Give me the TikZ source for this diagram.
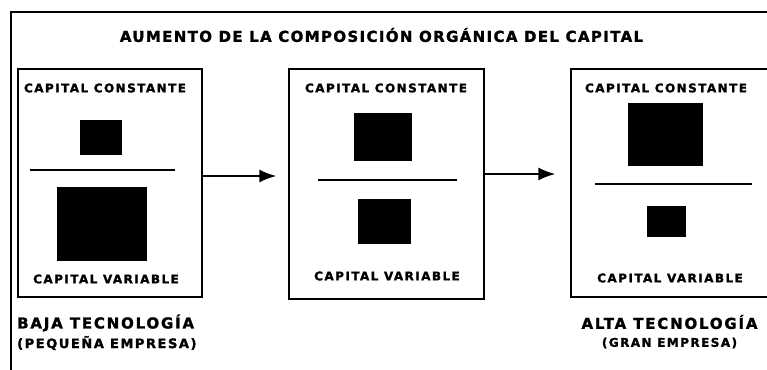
\documentclass[tikz,border=0pt]{standalone}
\usepackage{fontspec}
\usetikzlibrary{arrows.meta, positioning}
\newfontfamily\rotulo{DejaVu Sans}[LetterSpace=12,FakeBold=1.6]
\newfontfamily\titulo{DejaVu Sans}[LetterSpace=9,FakeBold=1.6]

\begin{document}
\begin{tikzpicture}[x=1pt,y=-1pt,>={Latex[length=17pt,width=13pt]},
      caja/.style={draw,line width=1.5pt,inner sep=0pt},
      cuadro/.style={fill=black,inner sep=0pt},
      texto/.style={font=\rotulo\bfseries\fontsize{12}{14}\selectfont,inner sep=0pt},
      grande/.style={font=\rotulo\bfseries\fontsize{15}{17}\selectfont,inner sep=0pt},
      raya/.style={line width=1.6pt},
      flecha/.style={->,line width=1.6pt,shorten >=12pt}]
      \useasboundingbox (0,0) rectangle (767,369);
      % marco exterior
      \draw[line width=1.4pt] (11,380) -- (11,12) -- (780,12);
      \node[font=\titulo\bfseries\fontsize{15}{17}\selectfont,inner sep=0pt] (titulo) at (381.5,35) {AUMENTO DE LA COMPOSICIÓN ORGÁNICA DEL CAPITAL};
      % cajas
      \node[caja,minimum width=184pt,minimum height=228pt] (caja_1) at (110,183) {};
      \node[caja,minimum width=195pt,minimum height=230pt] (caja_2) at (386.5,184) {};
      \node[caja,minimum width=198pt,minimum height=228pt] (caja_3) at (670,183) {};
      % baja tecnologia
      \node[texto] (cc_1) at (105,88) {CAPITAL CONSTANTE};
      \node[cuadro,minimum width=42pt,minimum height=35pt] (c_1) at (101,137.5) {};
      \draw[raya] (30,170) -- (175,170);
      \node[cuadro,minimum width=90pt,minimum height=74pt] (v_1) at (102,224) {};
      \node[texto] (cv_1) at (106,279) {CAPITAL VARIABLE};
      % intermedia
      \node[texto] (cc_2) at (386,88) {CAPITAL CONSTANTE};
      \node[cuadro,minimum width=58pt,minimum height=48pt] (c_2) at (383,137) {};
      \draw[raya] (318,180) -- (457,180);
      \node[cuadro,minimum width=53pt,minimum height=45pt] (v_2) at (384.5,221.5) {};
      \node[texto] (cv_2) at (387,276) {CAPITAL VARIABLE};
      % alta tecnologia
      \node[texto] (cc_3) at (666,88) {CAPITAL CONSTANTE};
      \node[cuadro,minimum width=75pt,minimum height=63pt] (c_3) at (665.5,134.5) {};
      \draw[raya] (595,184) -- (752,184);
      \node[cuadro,minimum width=39pt,minimum height=31pt] (v_3) at (666.5,221.5) {};
      \node[texto] (cv_3) at (670,278) {CAPITAL VARIABLE};
      % flechas
      \draw[flecha] ([yshift=7pt]caja_1.east) -- ([yshift=7pt]caja_1.east -| caja_2.west);
      \draw[flecha,shorten >=15pt] ([yshift=10pt]caja_2.east) -- ([yshift=10pt]caja_2.east -| caja_3.west);
      % rotulos de abajo
      \node[grande,anchor=west] (baja) at (17,323) {BAJA TECNOLOGÍA};
      \node[texto,font=\rotulo\bfseries\fontsize{13}{15}\selectfont,anchor=west] (pequena) at (17,343) {(PEQUEÑA EMPRESA)};
      \node[grande] (alta) at (669.5,322) {ALTA TECNOLOGÍA};
      \node[texto] (gran) at (669.5,343) {(GRAN EMPRESA)};
\end{tikzpicture}
\end{document}
